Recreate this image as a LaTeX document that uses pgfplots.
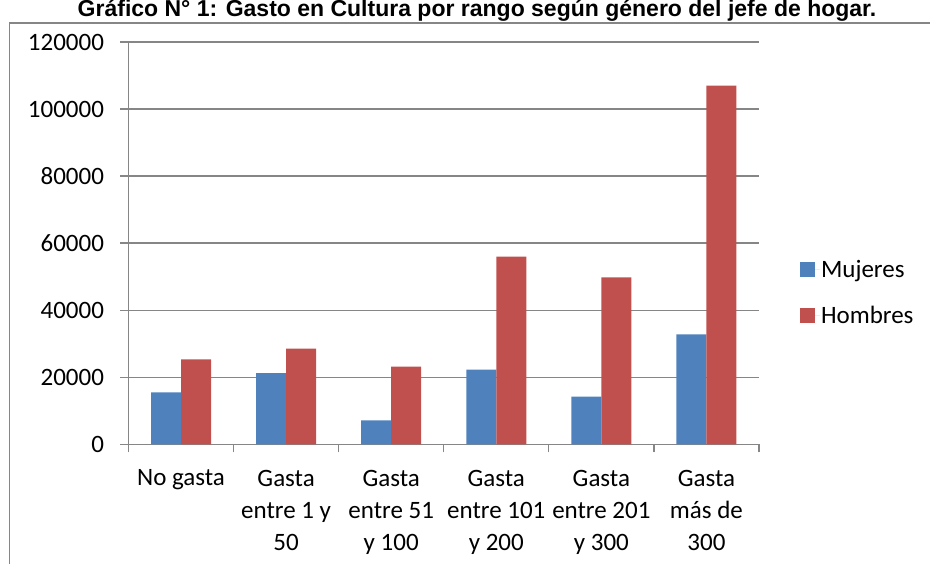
\documentclass[border=0pt]{standalone}
\usepackage{fontspec}
\setmainfont{Carlito}
\newfontfamily\titlefont{Liberation Sans}
\usepackage{pgfplots}
\pgfplotsset{compat=1.18}
\definecolor{muj}{HTML}{4F81BD}
\definecolor{hom}{HTML}{C0504D}
\definecolor{axgray}{HTML}{868686}
\begin{document}
\begin{tikzpicture}[x=1pt,y=1pt]
\useasboundingbox (0,0) rectangle (930,564);
\draw[axgray,line width=1.3pt] (9.5,-20) -- (9.5,541) -- (950,541);
\node[font=\titlefont\bfseries\fontsize{23}{28}\selectfont, anchor=base, inner sep=0pt] at (477,547) {Gráfico N° 1: Gasto en Cultura por rango según género del jefe de hogar.};
\begin{axis}[
  at={(128.5pt,119.7pt)}, anchor=south west,
  scale only axis, width=630.5pt, height=402.3pt,
  ybar=0pt, bar width=30pt,
  xmin=-0.5, xmax=5.5, ymin=0, ymax=120000,
  xtick={-0.5,0.5,1.5,2.5,3.5,4.5,5.5},
  x tick label as interval,
  xticklabels={No gasta,{Gasta\\entre 1 y\\50},{Gasta\\entre 51\\y 100},{Gasta\\entre 101\\y 200},{Gasta\\entre 201\\y 300},{Gasta\\más de\\300}},
  ytick={0,20000,40000,60000,80000,100000,120000},
  yticklabels={0,20000,40000,60000,80000,100000,120000},
  scaled y ticks=false,
  yticklabel style={font=\fontsize{25}{30}\selectfont, xshift=-13pt},
  xticklabel style={font=\fontsize{25}{32}\selectfont, align=center, anchor=north, yshift=-14pt},
  axis x line=bottom, axis y line=left,
  axis line style={-, axgray, line width=1.3pt},
  tick style={axgray, line width=1.3pt},
  major tick length=8pt, tick align=outside,
  ymajorgrids, grid style={axgray, line width=1.3pt},
  legend style={at={(1.060,0.377)}, anchor=west, draw=none, fill=none,
    font=\fontsize{25}{30}\selectfont, row sep=26pt,
    nodes={inner sep=1pt}},
  legend cell align=left,
  legend image code/.code={\path (0pt,0pt) -- (20pt,0pt); \fill[#1] (0pt,-7.5pt) rectangle (15pt,7.5pt);},
]
\addplot[fill=muj, draw=none] coordinates {(0,15500) (1,21200) (2,7100) (3,22300) (4,14200) (5,32800)};
\addplot[fill=hom, draw=none] coordinates {(0,25300) (1,28500) (2,23200) (3,56000) (4,49800) (5,107000)};
\legend{Mujeres,Hombres}
\end{axis}
\end{tikzpicture}
\end{document}
